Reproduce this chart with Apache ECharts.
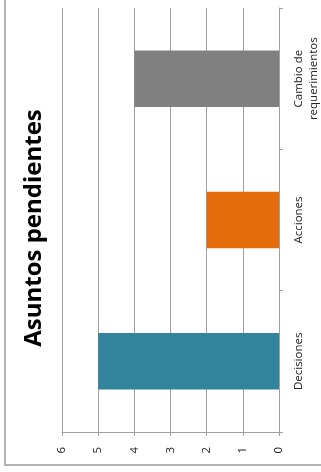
<!DOCTYPE html>
<html>
<head>
<meta charset="utf-8">
<style>
  html, body { margin: 0; padding: 0; background: #ffffff; }
  #chart { width: 321px; height: 472px; }
</style>
<script src="https://cdn.jsdelivr.net/npm/echarts@6/dist/echarts.min.js"></script>
</head>
<body>
<div id="chart"></div>
<script>
// Pending items per type
const categories = ['Decisiones', 'Acciones', 'Cambio de\nrequerimientos'];
const pendingCounts = [5, 2, 4];
const barColors = ['#31849B', '#E46C0A', '#808080'];
const valueTicks = [0, 1, 2, 3, 4, 5, 6];
const chartTitle = 'Asuntos pendientes';

const chart = echarts.init(document.getElementById('chart'), null, { renderer: 'canvas' });
const font = '"Open Sans", "Noto Sans", sans-serif';

chart.setOption({
  animation: false,
  backgroundColor: '#ffffff',
  grid: { left: 62, right: 41, top: 8, bottom: 40, containLabel: false },
  xAxis: {
    type: 'value',
    inverse: true,
    min: valueTicks[0],
    max: valueTicks[valueTicks.length - 1],
    interval: 1,
    axisLine: { show: true, lineStyle: { color: '#a0a0a0', width: 1 } },
    axisTick: { show: true, length: 4, lineStyle: { color: '#a0a0a0' } },
    splitLine: { show: true, lineStyle: { color: '#a0a0a0', width: 1 } },
    axisLabel: { rotate: 90, margin: 15, color: '#222', fontSize: 11.5, fontFamily: font }
  },
  yAxis: {
    type: 'category',
    position: 'right',
    data: categories,
    axisLine: { show: true, lineStyle: { color: '#a0a0a0', width: 1 } },
    axisTick: { show: true, length: 4, lineStyle: { color: '#a0a0a0' } },
    splitLine: { show: false },
    axisLabel: { rotate: 90, margin: 12, color: '#222', fontSize: 11.5, lineHeight: 15, fontFamily: font }
  },
  series: [{
    type: 'bar',
    barWidth: '40%',
    data: pendingCounts.map((v, i) => ({ value: v, itemStyle: { color: barColors[i] } }))
  }],
  graphic: [
    {
      type: 'rect',
      silent: true,
      shape: { x: 5, y: -10, width: 400, height: 475 },
      style: { fill: 'none', stroke: '#b3b3b3', lineWidth: 2 }
    },
    {
      type: 'text',
      x: 34,
      y: 228,
      rotation: Math.PI / 2,
      style: {
        text: chartTitle,
        fontFamily: font,
        fontWeight: 'bold',
        fontSize: 24,
        fill: '#000',
        align: 'center',
        verticalAlign: 'middle'
      }
    }
  ]
});
</script>
</body>
</html>
